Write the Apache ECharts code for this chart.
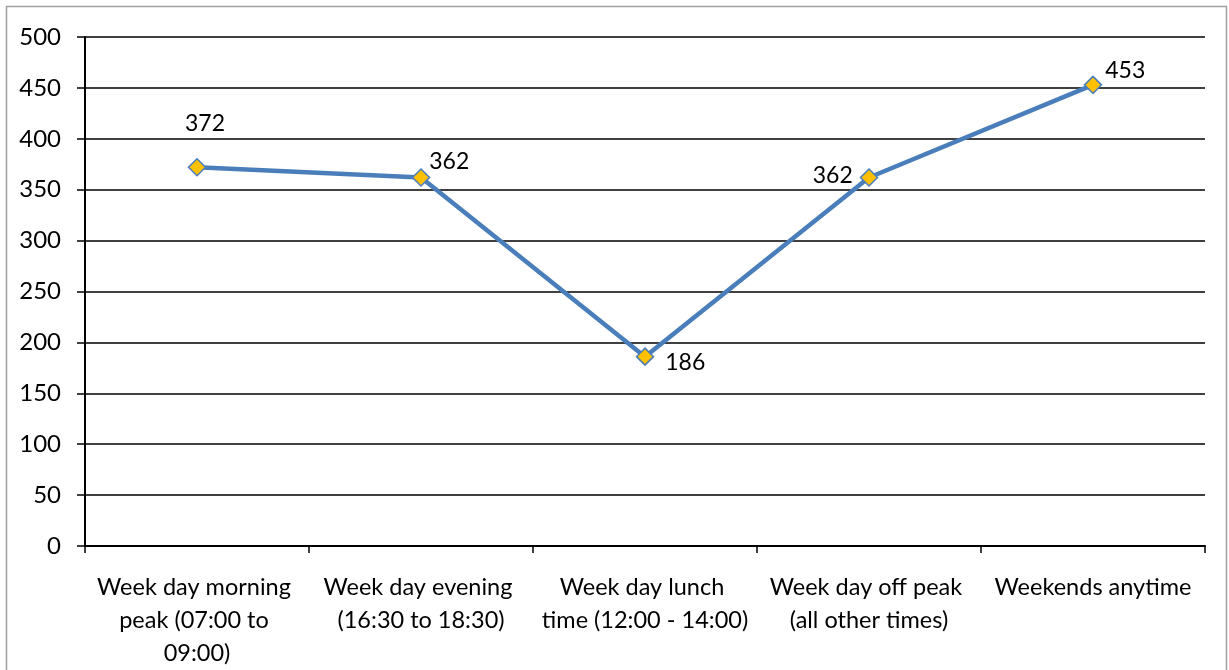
<!DOCTYPE html>
<html>
<head>
<meta charset="utf-8">
<script src="https://cdn.jsdelivr.net/npm/echarts@6/dist/echarts.min.js"></script>
<style>html,body{margin:0;padding:0;background:#fff}#c{width:1229px;height:670px}</style>
</head>
<body>
<div id="c"></div>
<script>
const categories = ["Week day morning peak (07:00 to 09:00)", "Week day evening (16:30 to 18:30)", "Week day lunch time (12:00 - 14:00)", "Week day off peak (all other times)", "Weekends anytime"];
const values = [372, 362, 186, 362, 453];
const yTicks = [0, 50, 100, 150, 200, 250, 300, 350, 400, 450, 500];

const labelPos = [
  {position: 'top', offset: [8, -18]},
  {position: 'right', offset: [-6, -16]},
  {position: 'right', offset: [6, 6]},
  {position: 'left', offset: [-2, -2]},
  {position: 'right', offset: [-2, -14]}
];

const chart = echarts.init(document.getElementById('c'));
const FONT = 'Lato, "Open Sans", sans-serif';
chart.setOption({
  animation: false,
  backgroundColor: '#fff',
  graphic: [{
    type: 'rect', shape: {x: 6.5, y: 6.5, width: 1220, height: 680},
    style: {fill: 'none', stroke: '#a0a0a0', lineWidth: 1.5}, silent: true
  }],
  grid: {left: 85, right: 24, top: 37, bottom: 123, containLabel: false},
  xAxis: {
    type: 'category', data: categories, boundaryGap: true,
    axisLine: {lineStyle: {color: '#000', width: 2}},
    axisTick: {show: true, length: 7, lineStyle: {color: '#000', width: 1.5}},
    axisLabel: {color: '#000', fontFamily: FONT, fontSize: 23.5, lineHeight: 33, margin: 25, width: 212, overflow: 'break', interval: 0}
  },
  yAxis: {
    type: 'value', min: yTicks[0], max: yTicks[yTicks.length - 1], interval: 50,
    axisLine: {show: true, lineStyle: {color: '#000', width: 2}},
    axisTick: {show: true, inside: false, length: 8, lineStyle: {color: '#000', width: 1.5}},
    splitLine: {lineStyle: {color: '#000', width: 1.5}},
    axisLabel: {color: '#000', fontFamily: FONT, fontSize: 24, margin: 24}
  },
  series: [{
    type: 'line',
    data: values.map((v, i) => ({
      value: v,
      label: {show: true, position: labelPos[i].position, offset: labelPos[i].offset}
    })),
    lineStyle: {color: '#4a7ebb', width: 4.5},
    symbol: 'diamond', symbolSize: 17,
    itemStyle: {color: '#ffc000', borderColor: '#4a7ebb', borderWidth: 1.5},
    label: {color: '#000', fontFamily: FONT, fontSize: 23},
    z: 3
  }]
});
</script>
</body>
</html>
